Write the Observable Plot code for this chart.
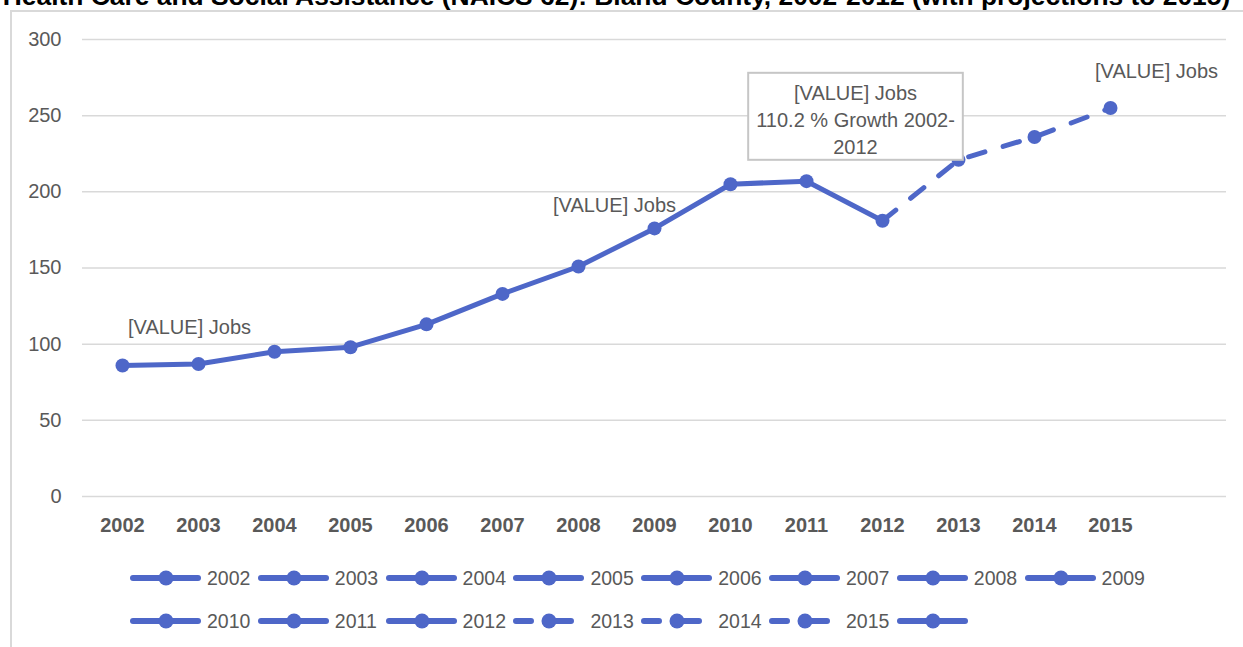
<!DOCTYPE html>
<html>
<head>
<meta charset="utf-8">
<script src="https://cdn.jsdelivr.net/npm/d3@7"></script>
<script src="https://cdn.jsdelivr.net/npm/@observablehq/plot@0.6"></script>
<style>
  html, body { margin: 0; padding: 0; background: #fff; overflow: hidden; }
  #wrap { position: relative; width: 1243px; height: 647px; overflow: hidden; }
  #frame { position: absolute; left: 10px; top: 10px; width: 1260px; height: 660px;
           border-left: 2px solid #d9d9d9; border-top: 2px solid #d9d9d9; box-sizing: border-box; }
  #title { position: absolute; left: 0; top: -17px; width: 1233px; text-align: center;
           font-family: "Liberation Sans", Arial, sans-serif; font-weight: bold; font-size: 26.4px;
           line-height: 26px; color: #000; white-space: nowrap; }
  #chart { position: absolute; left: 0; top: 0; }
  #legend { position: absolute; left: 130px; top: 556px; width: 1100px;
            font-family: "Liberation Sans", Arial, sans-serif; font-size: 19.5px; color: #595959; }
  .row { display: flex; height: 43px; align-items: center; }
  .item { width: 127.8px; flex: none; display: flex; align-items: center; }
  .item svg { flex: none; display: block; }
  .item span { line-height: 24px; }
  [aria-label="x-axis tick label"] { font-weight: bold; }
</style>
</head>
<body>
<div id="wrap">
  <div id="title"></div>
  <div id="frame"></div>
  <div id="chart"></div>
  <div id="legend"></div>
</div>
<script>
// ---- data ----
const titleText = "Health Care and Social Assistance (NAICS 62): Bland County, 2002-2012 (with projections to 2015)";
const years = ["2002","2003","2004","2005","2006","2007","2008","2009","2010","2011","2012","2013","2014","2015"];
const jobs  = [86, 87, 95, 98, 113, 133, 151, 176, 205, 207, 181, 221, 236, 255];
const categories = [...years, ""];              // Excel category axis has one empty slot
const lastActualYear = "2012";                  // 2013-2015 are projections (dashed)
const yTicks = [0, 50, 100, 150, 200, 250, 300];
const legendEntries = [...years, ""];
const dashedLegend = ["2013", "2014", "2015"];
const valueLabelYears = ["2002", "2009", "2015"];
const valueLabelText = "[VALUE] Jobs";
const growthLabelYear = "2011";
const growthLabelText = "[VALUE] Jobs\n110.2 % Growth 2002-\n2012";

// ---- build ----
const color = "#4E67C8";
const font = '"Liberation Sans", Arial, sans-serif';
const rows = years.map((y, i) => ({year: y, jobs: jobs[i]}));
const cut = years.indexOf(lastActualYear);
const actual = rows.slice(0, cut + 1);
const projected = rows.slice(cut);
const byYear = y => rows.filter(d => d.year === y);

document.getElementById("title").textContent = titleText;

const chart = Plot.plot({
  width: 1243,
  height: 540,
  marginLeft: 82,
  marginRight: 17,
  marginTop: 39,
  marginBottom: 44,
  style: {fontFamily: font, fontSize: "20px", color: "#595959", background: "transparent", overflow: "visible"},
  x: {type: "point", domain: categories, padding: 0.5, align: 0.5, label: null},
  y: {domain: [0, 300], label: null},
  marks: [
    Plot.gridY(yTicks, {stroke: "#d9d9d9", strokeOpacity: 1, strokeWidth: 1.5}),
    Plot.axisY(yTicks, {tickSize: 0, tickPadding: 21, label: null, fill: "#595959"}),
    Plot.axisX({tickSize: 0, tickPadding: 21, label: null, fill: "#595959", fontWeight: "bold"}),
    Plot.line(actual, {x: "year", y: "jobs", stroke: color, strokeWidth: 5, strokeLinejoin: "round"}),
    Plot.line(projected, {x: "year", y: "jobs", stroke: color, strokeWidth: 5, strokeDasharray: "17,19", strokeLinecap: "round"}),
    Plot.dot(rows, {x: "year", y: "jobs", r: 7, fill: color}),
    Plot.text(byYear(valueLabelYears[0]), {x: "year", y: "jobs", text: () => valueLabelText, dx: 67, dy: -38, fill: "#595959"}),
    Plot.text(byYear(valueLabelYears[1]), {x: "year", y: "jobs", text: () => valueLabelText, dx: -40, dy: -23, fill: "#595959"}),
    Plot.text(byYear(valueLabelYears[2]), {x: "year", y: "jobs", text: () => valueLabelText, dx: 46, dy: -36, fill: "#595959"}),
    Plot.text(byYear(growthLabelYear), {x: "year", y: "jobs", text: () => growthLabelText, dx: 49, dy: -63, lineHeight: 1.35, fill: "#595959"})
  ]
});
document.getElementById("chart").appendChild(chart);

// white boxed background behind the growth label (last text mark)
const textGroups = chart.querySelectorAll('g[aria-label="text"]');
const g = textGroups[textGroups.length - 1];
const t = g && g.querySelector("text");
if (t) {
  const bb = t.getBBox();
  const r = document.createElementNS("http://www.w3.org/2000/svg", "rect");
  r.setAttribute("x", bb.x - 8);
  r.setAttribute("y", bb.y - 9);
  r.setAttribute("width", bb.width + 16);
  r.setAttribute("height", bb.height + 11);
  r.setAttribute("fill", "#fff");
  r.setAttribute("stroke", "#c6c6c6");
  r.setAttribute("stroke-width", 2);
  if (t.getAttribute("transform")) r.setAttribute("transform", t.getAttribute("transform"));
  g.insertBefore(r, t);
}

// legend
const legend = document.getElementById("legend");
const perRow = 8;
for (let start = 0; start < legendEntries.length; start += perRow) {
  const row = document.createElement("div");
  row.className = "row";
  legendEntries.slice(start, start + perRow).forEach(name => {
    const item = document.createElement("div");
    item.className = "item";
    const dashed = dashedLegend.includes(name);
    item.innerHTML =
      `<svg width="77" height="20" viewBox="0 0 77 20">` +
      (dashed
        ? `<line x1="3" y1="10" x2="58" y2="10" stroke="${color}" stroke-width="6" stroke-linecap="round" stroke-dasharray="15,15,25,100"/>`
        : `<line x1="3" y1="10" x2="68" y2="10" stroke="${color}" stroke-width="6" stroke-linecap="round"/>`) +
      `<circle cx="36" cy="10" r="7.5" fill="${color}"/></svg><span>${name}</span>`;
    row.appendChild(item);
  });
  legend.appendChild(row);
}
</script>
</body>
</html>
